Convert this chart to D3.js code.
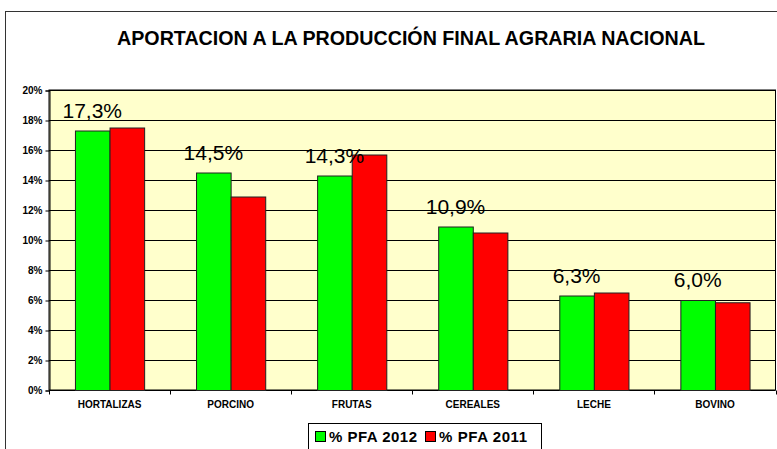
<!DOCTYPE html>
<html>
<head>
<meta charset="utf-8">
<script src="https://cdn.jsdelivr.net/npm/d3@7"></script>
<style>
  body { margin: 0; background: #fff; }
  svg { display: block; font-family: "Liberation Sans", Arial, sans-serif; }
</style>
</head>
<body>
<svg id="chart"></svg>
<script>
// data
var categories = ["HORTALIZAS", "PORCINO", "FRUTAS", "CEREALES", "LECHE", "BOVINO"]
var series = ["% PFA 2012", "% PFA 2011"]
var pfa2012 = [17.3, 14.5, 14.3, 10.9, 6.3, 6.0]
var pfa2011 = [17.5, 12.9, 15.7, 10.5, 6.5, 5.85]
var labels2012 = ["17,3%", "14,5%", "14,3%", "10,9%", "6,3%", "6,0%"]
var yTicks = [0, 2, 4, 6, 8, 10, 12, 14, 16, 18, 20]
var colors = ["#00FF00", "#FF0000"]

var width = 777,
    height = 449

var svg = d3.select("#chart")
    .attr("width", width)
    .attr("height", height)

// outer frame (runs off the right and bottom of the picture)
svg.append("rect")
    .attr("x", 5.5).attr("y", 11.5)
    .attr("width", 800).attr("height", 500)
    .attr("fill", "#fff")
    .attr("stroke", "#333")
    .attr("stroke-width", 1)

svg.append("text")
    .attr("x", 411).attr("y", 45)
    .attr("text-anchor", "middle")
    .attr("textLength", 588)
    .attr("lengthAdjust", "spacingAndGlyphs")
    .style("font-size", "20px")
    .style("font-weight", "bold")
    .text("APORTACION A LA PRODUCCIÓN FINAL AGRARIA NACIONAL")

var plot = { left: 49, right: 775.5, top: 90, bottom: 390 }

var x0 = d3.scaleBand()
    .domain(categories)
    .range([plot.left, plot.right])

var x1 = d3.scaleBand()
    .domain(series)
    .range([0, x0.bandwidth()])
    .paddingOuter(0.75)

var y = d3.scaleLinear()
    .domain([0, 20])
    .range([plot.bottom, plot.top])

// plot background
svg.append("rect")
    .attr("x", plot.left).attr("y", plot.top)
    .attr("width", plot.right - plot.left)
    .attr("height", plot.bottom - plot.top)
    .attr("fill", "#FFFFCC")
    .attr("stroke", "#000")

// gridlines
svg.append("g")
  .selectAll("line")
  .data(yTicks.slice(1))
  .enter().append("line")
    .attr("x1", plot.left).attr("x2", plot.right)
    .attr("y1", function(d){ return Math.round(y(d)) + 0.5 })
    .attr("y2", function(d){ return Math.round(y(d)) + 0.5 })
    .attr("stroke", "#000")

// y axis
var yAxis = svg.append("g")
    .attr("transform", "translate(" + (plot.left + 0.5) + ",0.5)")
    .call(d3.axisLeft(y).tickValues(yTicks).tickSize(4).tickPadding(3)
        .tickFormat(function(d){ return d + "%" }))
yAxis.select(".domain").attr("stroke", "#000")
yAxis.selectAll("text")
    .style("font-size", "10px")
    .style("font-weight", "bold")
    .style("font-family", "Liberation Sans, Arial, sans-serif")
    .attr("fill", "#000")

// x axis
var xAxis = svg.append("g")
    .attr("transform", "translate(0," + (plot.bottom + 0.5) + ")")
xAxis.append("line")
    .attr("x1", plot.left).attr("x2", plot.right)
    .attr("stroke", "#000")
xAxis.selectAll(".tk")
  .data(categories.concat([null]))
  .enter().append("line")
    .attr("x1", function(d, i){ return Math.round(plot.left + i * x0.step()) + 0.5 })
    .attr("x2", function(d, i){ return Math.round(plot.left + i * x0.step()) + 0.5 })
    .attr("y1", 0).attr("y2", 4)
    .attr("stroke", "#000")
xAxis.selectAll("text")
  .data(categories)
  .enter().append("text")
    .attr("x", function(d){ return x0(d) + x0.bandwidth() / 2 })
    .attr("y", 17)
    .attr("text-anchor", "middle")
    .style("font-size", "10px")
    .style("font-weight", "bold")
    .text(function(d){ return d })

// bars
var rows = categories.map(function(c, i){
    return { cat: c, values: [pfa2012[i], pfa2011[i]], label: labels2012[i] }
})

var groups = svg.append("g")
  .selectAll("g")
  .data(rows)
  .enter().append("g")
    .attr("transform", function(d){ return "translate(" + x0(d.cat) + ",0)" })

groups.selectAll("rect")
  .data(function(d){ return d.values.map(function(v, j){ return { s: series[j], v: v, j: j } }) })
  .enter().append("rect")
    .attr("x", function(d){ return x1(d.s) + 0.5 })
    .attr("y", function(d){ return y(d.v) + 0.5 })
    .attr("width", x1.bandwidth())
    .attr("height", function(d){ return plot.bottom - y(d.v) })
    .attr("fill", function(d){ return colors[d.j] })
    .attr("stroke", "#222")
    .attr("stroke-width", 1)

groups.append("text")
    .attr("x", function(d){ return x1(series[0]) + x1.bandwidth() / 2 })
    .attr("y", function(d){ return y(d.values[0]) - 13 })
    .attr("text-anchor", "middle")
    .style("font-size", "21px")
    .attr("fill", "#000")
    .text(function(d){ return d.label })

// legend
var legend = svg.append("g")
legend.append("rect")
    .attr("x", 308.5).attr("y", 423.5)
    .attr("width", 233).attr("height", 40)
    .attr("fill", "#fff")
    .attr("stroke", "#000")

var legendX = [315, 425]
series.forEach(function(s, i){
    legend.append("rect")
        .attr("x", legendX[i] + 0.5).attr("y", 431.5)
        .attr("width", 10).attr("height", 10)
        .attr("fill", colors[i])
        .attr("stroke", "#000")
    legend.append("text")
        .attr("x", legendX[i] + 14).attr("y", 442)
        .attr("textLength", 88)
        .attr("lengthAdjust", "spacing")
        .style("font-size", "15px")
        .style("font-weight", "bold")
        .text(s)
})
</script>
</body>
</html>
